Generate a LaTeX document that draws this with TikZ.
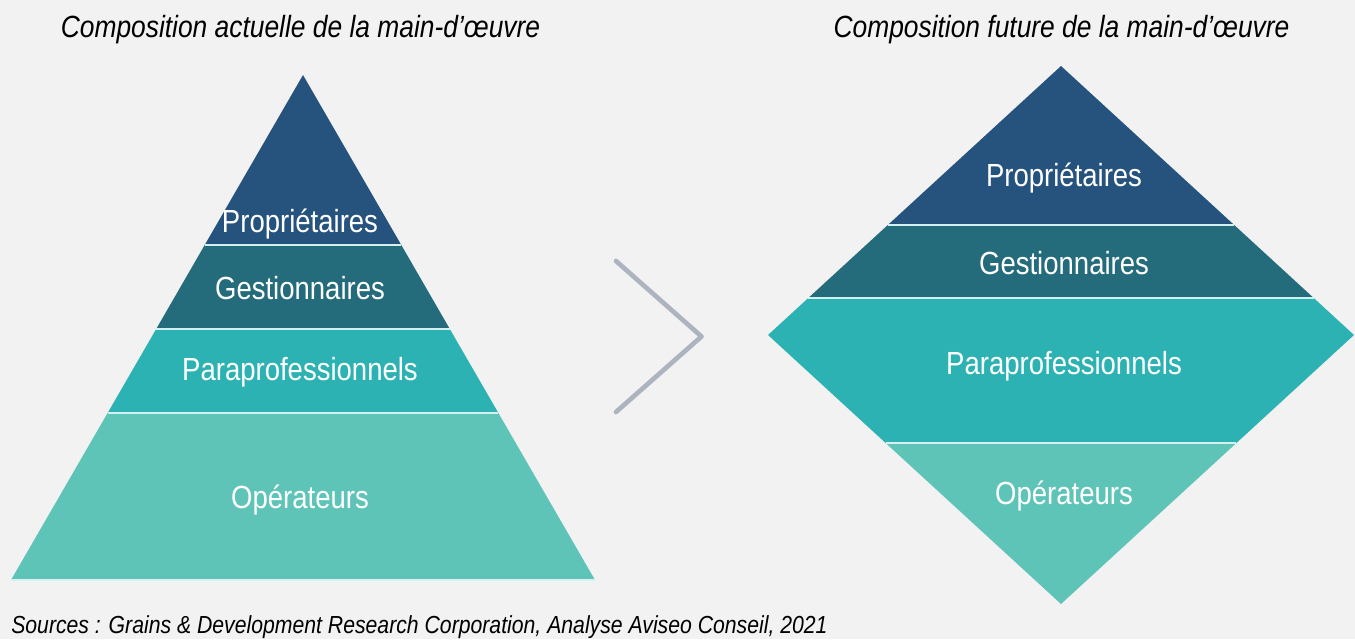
\documentclass[tikz,border=0pt]{standalone}
\usepackage{fontspec}
\setmainfont{Liberation Sans}[FakeStretch=0.86]

\definecolor{bgGray}{HTML}{F2F2F2}
\definecolor{ownerBlue}{HTML}{26527E}
\definecolor{managerTeal}{HTML}{246B7B}
\definecolor{paraTeal}{HTML}{2DB2B3}
\definecolor{operGreen}{HTML}{5FC4B8}
\definecolor{chevronGray}{HTML}{ADB4BF}

\begin{document}
\begin{tikzpicture}[x=0.75pt, y=-0.75pt,
    band/.style={fill=#1, draw=none},
    sep/.style={draw=white!80!paraTeal, line width=1pt},
    layer/.style={text=white, anchor=base, inner sep=0pt, font=\fontsize{24}{28}\selectfont},
    heading/.style={anchor=base, inner sep=0pt, font=\fontsize{23}{27}\selectfont\itshape}]

% Background
\fill[bgGray] (0,0) rectangle (1355,639);
\useasboundingbox (0,0) rectangle (1355,639);

% First pyramid - current workforce
\begin{scope}[local bounding box=current]
    % Bands
    \fill[band=ownerBlue] (303,75) -- (401.3,245) -- (204.7,245) -- cycle;
    \fill[band=managerTeal] (204.7,245) -- (401.3,245) -- (449.8,329) -- (156.2,329) -- cycle;
    \fill[band=paraTeal] (156.2,329) -- (449.8,329) -- (498.4,413) -- (107.6,413) -- cycle;
    \fill[band=operGreen] (107.6,413) -- (498.4,413) -- (595,580) -- (11,580) -- cycle;
    
    % Separators
    \draw[sep] (204.7,245) -- (401.3,245);
    \draw[sep] (156.2,329) -- (449.8,329);
    \draw[sep] (107.6,413) -- (498.4,413);
    \draw[sep] (11,580) -- (595,580);
    
    % Labels
    \node[layer] (curOwner) at (300,232) {Propriétaires};
    \node[layer] (curManager) at (300,299) {Gestionnaires};
    \node[layer] (curPara) at (300,380) {Paraprofessionnels};
    \node[layer] (curOper) at (300,508) {Opérateurs};
    \node[heading] (curTitle) at (300.5,37) {Composition actuelle de la main-d’œuvre};
\end{scope}

% Chevron between the two
\coordinate (chevTop) at (616,261);
\coordinate (chevTip) at (701.5,336.5);
\coordinate (chevBot) at (616,412);
\draw[chevronGray, line width=3.5pt, line cap=round, line join=round]
    (chevTop) -- (chevTip) -- (chevBot);

% Second shape - future workforce
\begin{scope}[local bounding box=future]
    % Bands
    \fill[band=ownerBlue] (1061,66) -- (1234.2,225) -- (887.8,225) -- cycle;
    \fill[band=managerTeal] (887.8,225) -- (1234.2,225) -- (1313.7,298) -- (808.3,298) -- cycle;
    \fill[band=paraTeal] (808.3,298) -- (1313.7,298) -- (1354,335) -- (1236.4,443)
        -- (885.6,443) -- (768,335) -- cycle;
    \fill[band=operGreen] (885.6,443) -- (1236.4,443) -- (1061,604) -- cycle;
    
    % Separators
    \draw[sep] (887.8,225) -- (1234.2,225);
    \draw[sep] (808.3,298) -- (1313.7,298);
    \draw[sep] (885.6,443) -- (1236.4,443);
    
    % Labels
    \node[layer] (futOwner) at (1064,186) {Propriétaires};
    \node[layer] (futManager) at (1064,274) {Gestionnaires};
    \node[layer] (futPara) at (1064,374) {Paraprofessionnels};
    \node[layer] (futOper) at (1064,504) {Opérateurs};
    \node[heading] (futTitle) at (1061.5,37) {Composition future de la main-d’œuvre};
\end{scope}

% Source line
\node[anchor=base west, inner sep=0pt, font=\fontsize{18.5}{22}\selectfont\itshape] (source)
    at (11,633) {Sources : Grains \& Development Research Corporation, Analyse Aviseo Conseil, 2021};
\end{tikzpicture}
\end{document}
